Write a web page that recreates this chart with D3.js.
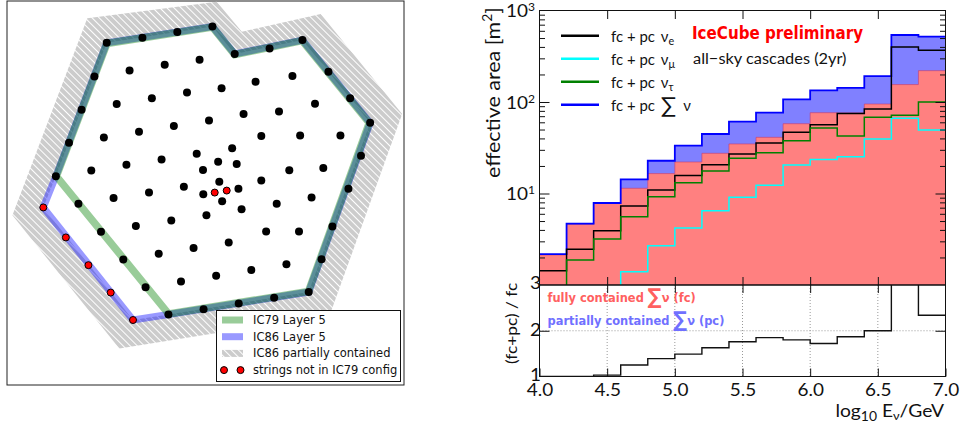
<!DOCTYPE html>
<html>
<head>
<meta charset="utf-8">
<script src="https://cdn.jsdelivr.net/npm/d3@7"></script>
<style>
    body { margin: 0; background: #fff; }
    svg { display: block; }
    text { font-family: "Lato", "DejaVu Sans", sans-serif; fill: #111; }
    .domain { display: none; }
</style>
</head>
<body>
<div id="chart"></div>
<script>
// Detector map: string positions in metres, north up
const hullStrings = [[-351,550],[-226,568],[-104,588],[19,607],[97,511],[219,530],[334,560],[425,449],[501,356],[571,270],
    [539,155],[495,39],[439,-93],[401,-207],[356,-322],[235,-342],[111,-362],[-12,-382],[-135,-401],[-215,-305],
    [-293,-208],[-371,-111],[-450,-13],[-529,83],[-483,200],[-439,316],[-394,432]];
const innerStrings = [[-271,453],[-148,473],[-26,491],[-316,336],[-193,356],[-70,376],[51,391],[170,414],[299,434],
    [-361,219],[-238,239],[-116,259],[7,278],[128,301],[252,310],[378,337],[-405,103],[-282,123],[-159,142],[-36,162],
    [88,181],[190,224],[326,226],[467,226],[-327,7],[-203,26],[-81,46],[-14,105],[39,134],[104,126],[43,64],[110,39],
    [-13,20],[53,-4],[121,-32],[-2,-53],[190,68],[288,104],[407,112],[244,-13],[366,9],[207,-110],[322,-110],[76,-149],
    [-249,-91],[-125,-72],[-47,-168],[-169,-188],[-91,-285],[32,-265],[155,-245],[278,-225]];
const newStrings = [[-573,-26],[-494,-131],[-415,-228],[-337,-324],[-259,-420],[27,26],[69,33]];
const layerIC79 = [[-527,83],[-350,548],[19,605],[97,509],[333,558],[568,270],[355,-320],[-134,-399]];
const layerIC86 = [[-573,-26],[-529,83],[-351,550],[19,607],[97,511],[334,560],[571,270],[356,-322],[-135,-401],[-259,-420]];
const outerIC86 = [[-681,-53],[-419,636],[34,694],[122,589],[398,651],[683,301],[430,-402],[-307,-520]];
const mapLegend = ["IC79 Layer 5", "IC86 Layer 5", "IC86 partially contained", "strings not in IC79 config"];

// Effective area histograms, bins of 0.2 in log10(E/GeV) from 4.0 to 7.0
const binEdges = d3.range(15).map(i => 4 + i * 0.2);
const belowAxis = 0.5;
const areaSum = [2.18,4.68,7.87,14.3,22.8,33.3,44.7,60.9,76.4,107,134,143,192,540,517];
const areaFc = [2.13,4.6,7.8,11.4,16.5,22.1,27.5,34.8,41.1,57.9,76.4,76,95,155,220];
const areaE = [1.43,2.46,3.92,7.3,10.9,15.7,20.6,27,35.6,46.7,56.5,75,84,399,367];
const areaMu = [belowAxis,belowAxis,belowAxis,1.4,2.69,4.2,6.49,9.09,12.3,20.5,23.6,25.2,39.4,66.4,49.4];
const areaTau = [belowAxis,1.88,3.18,5.58,9.2,13.1,17.6,24.3,27.9,37.8,52,42.5,68,71.6,100];
const ratio = [1,1,1.03,1.25,1.39,1.49,1.63,1.76,1.85,1.8,1.72,1.87,2,3.5,2.34];
const xTicks = [4,4.5,5,5.5,6,6.5,7];

const svg = d3.select("#chart").append("svg").attr("width", 964).attr("height", 425);
const defs = svg.append("defs");

// Hatch for the partially contained region
const hatch = defs.append("pattern").attr("id", "hatch")
    .attr("patternUnits", "userSpaceOnUse")
    .attr("width", 5).attr("height", 5)
    .attr("patternTransform", "rotate(-45)");
hatch.append("rect").attr("width", 5).attr("height", 5).attr("fill", "#cccccc");
hatch.append("line").attr("x1", 2.5).attr("x2", 2.5).attr("y1", 0).attr("y2", 5)
    .attr("stroke", "#fff").attr("stroke-width", 1);

// Text helper: matplotlib's picture is stretched sideways, so allow a horizontal scale
function label(parent, x, y, opts = {}) {
    return parent.append("text")
        .attr("transform", `translate(${x},${y}) rotate(${opts.rotate || 0}) scale(${opts.sx || 1},1)`)
        .attr("text-anchor", opts.anchor || "start")
        .style("font-size", (opts.size || 15) + "px")
        .style("font-weight", opts.weight || 400)
        .style("font-family", opts.family || null)
        .style("fill", opts.color || null);
}
function tspan(t, str, size, dy) {
    t.append("tspan").attr("dy", dy || 0).style("font-size", size ? size + "px" : null).text(str);
}

// ---------- left panel: detector map ----------
function drawMap() {
    const frame = { left: 7, right: 404, top: 1, bottom: 385 };
    const x = d3.scaleLinear().domain([0, 350]).range([207, 307]);
    const y = d3.scaleLinear().domain([0, 350]).range([200, 100]);
    const line = d3.line().x(d => x(d[0])).y(d => y(d[1]));
    const ringPath = pts => line(pts) + "Z";

    const map = svg.append("g");
    map.append("rect").attr("x", frame.left).attr("y", frame.top)
        .attr("width", frame.right - frame.left).attr("height", frame.bottom - frame.top)
        .attr("fill", "#fff").attr("stroke", "#222").attr("stroke-width", 1);

    // Hatched ring between the outer outline and the IC86 hull
    map.append("path")
        .attr("d", ringPath(outerIC86) + ringPath(layerIC86))
        .attr("fill", "url(#hatch)").attr("fill-rule", "evenodd");

    // Blue goes first so that green on top gives the teal overlap
    map.append("path").attr("d", ringPath(layerIC86)).attr("fill", "none")
        .attr("stroke", "#0000ff").attr("stroke-opacity", 0.4).attr("stroke-width", 7).attr("stroke-linejoin", "miter");
    map.append("path").attr("d", ringPath(layerIC79)).attr("fill", "none")
        .attr("stroke", "#008000").attr("stroke-opacity", 0.4).attr("stroke-width", 7.5).attr("stroke-linejoin", "miter");

    map.selectAll(".string").data(hullStrings.concat(innerStrings)).enter().append("circle")
        .attr("class", "string")
        .attr("cx", d => x(d[0])).attr("cy", d => y(d[1])).attr("r", 4).attr("fill", "#000");
    map.selectAll(".new-string").data(newStrings).enter().append("circle")
        .attr("class", "new-string")
        .attr("cx", d => x(d[0])).attr("cy", d => y(d[1])).attr("r", 3.5)
        .attr("fill", "#ff0000").attr("stroke", "#000").attr("stroke-width", 1);

    // Legend
    const legend = map.append("g").attr("transform", "translate(216.5,310.5)");
    legend.append("rect").attr("width", 184).attr("height", 71)
        .attr("fill", "#fff").attr("stroke", "#111").attr("stroke-width", 1);
    const rowY = i => 9.5 + i * 16.7;
    legend.append("rect").attr("x", 5.5).attr("y", rowY(0) - 3.5).attr("width", 21).attr("height", 7).attr("fill", "#99cc99");
    legend.append("rect").attr("x", 5.5).attr("y", rowY(1) - 3.5).attr("width", 21).attr("height", 7).attr("fill", "#9999ff");
    legend.append("rect").attr("x", 5.5).attr("y", rowY(2) - 3.5).attr("width", 21).attr("height", 7).attr("fill", "url(#hatch)");
    [7.5, 24].forEach(cx => {
        legend.append("circle").attr("cx", cx).attr("cy", rowY(3)).attr("r", 3.5)
            .attr("fill", "#ff0000").attr("stroke", "#000").attr("stroke-width", 1);
    });
    mapLegend.forEach((d, i) => {
        label(legend, 36.5, rowY(i) + 4, { size: 11.5, family: "DejaVu Sans" }).text(d);
    });
}

// ---------- right panel: effective area ----------
function drawArea() {
    const x = d3.scaleLinear().domain([4, 7]).range([539.5, 945.5]);
    const yTop = d3.scaleLog().domain([1, 1000]).range([285, 10.5]);
    const yBottom = d3.scaleLinear().domain([1, 3]).range([376.5, 285]);
    const binWidth = 0.2;

    const closeBins = values => binEdges.map((e, i) => [e, values[i]])
        .concat([[binEdges[14] + binWidth, values[14]]]);

    const plot = svg.append("g");
    plot.append("clipPath").attr("id", "clip-top").append("rect")
        .attr("x", x(4)).attr("y", yTop(1000)).attr("width", x(7) - x(4)).attr("height", yTop(1) - yTop(1000));
    plot.append("clipPath").attr("id", "clip-bottom").append("rect")
        .attr("x", x(4)).attr("y", yBottom(3)).attr("width", x(7) - x(4)).attr("height", yBottom(1) - yBottom(3));

    const top = plot.append("g").attr("clip-path", "url(#clip-top)");
    const area = d3.area().curve(d3.curveStepAfter).x(d => x(d[0])).y0(yTop(1)).y1(d => yTop(d[1]));
    const stepTop = d3.line().curve(d3.curveStepAfter).x(d => x(d[0])).y(d => yTop(d[1]));

    top.append("path").attr("d", area(closeBins(areaSum))).attr("fill", "#8080ff");
    top.append("path").attr("d", area(closeBins(areaFc))).attr("fill", "#ff8080")
        .attr("stroke", "#c23c70").attr("stroke-opacity", 0.6).attr("stroke-width", 1);

    [[areaSum, "#0000ff", 1.8], [areaE, "#000", 1.5], [areaMu, "#00ffff", 1.5], [areaTau, "#008000", 1.5]].forEach(s => {
        top.append("path").attr("d", stepTop(closeBins(s[0])))
            .attr("fill", "none").attr("stroke", s[1]).attr("stroke-width", s[2]);
    });

    // Lower panel: dotted grid then ratio
    const lower = plot.append("g");
    lower.selectAll(".vgrid").data(xTicks.slice(1, -1)).enter().append("line")
        .attr("x1", d => x(d)).attr("x2", d => x(d)).attr("y1", yBottom(3)).attr("y2", yBottom(1))
        .attr("stroke", "#999").attr("stroke-dasharray", "1,2");
    lower.append("line").attr("x1", x(4)).attr("x2", x(7)).attr("y1", yBottom(2)).attr("y2", yBottom(2))
        .attr("stroke", "#999").attr("stroke-dasharray", "1,2");
    const stepBottom = d3.line().curve(d3.curveStepAfter).x(d => x(d[0])).y(d => yBottom(d[1]));
    lower.append("path").attr("clip-path", "url(#clip-bottom)").attr("d", stepBottom(closeBins(ratio)))
        .attr("fill", "none").attr("stroke", "#111").attr("stroke-width", 1.4);

    // Axes, all ticks inward
    const axisStyle = g => g.selectAll("line").attr("stroke", "#111");
    const minorTicks = yTop.ticks().filter(d => ![1, 10, 100, 1000].includes(d));
    [[d3.axisLeft, x(4)], [d3.axisRight, x(7)]].forEach(a => {
        const side = a[0];
        plot.append("g").attr("transform", `translate(${a[1]},0)`)
            .call(side(yTop).tickValues(minorTicks).tickSize(-5.5).tickFormat("")).call(axisStyle);
        plot.append("g").attr("transform", `translate(${a[1]},0)`)
            .call(side(yTop).tickValues([10, 100]).tickSize(-10).tickFormat("")).call(axisStyle);
        plot.append("g").attr("transform", `translate(${a[1]},0)`)
            .call(side(yBottom).tickValues([2]).tickSize(-10).tickFormat("")).call(axisStyle);
    });
    const inner = xTicks.slice(1, -1);
    plot.append("g").attr("transform", `translate(0,${yTop(1000)})`)
        .call(d3.axisTop(x).tickValues(inner).tickSize(-8.5).tickFormat("")).call(axisStyle);
    plot.append("g").attr("transform", `translate(0,${yTop(1)})`)
        .call(d3.axisBottom(x).tickValues(inner).tickSize(-8).tickFormat("")).call(axisStyle);
    plot.append("g").attr("transform", `translate(0,${yTop(1)})`)
        .call(d3.axisTop(x).tickValues(inner).tickSize(-8).tickFormat("")).call(axisStyle);
    const xAxis = plot.append("g").attr("transform", `translate(0,${yBottom(1)})`)
        .call(d3.axisBottom(x).tickValues(xTicks).tickSize(-8).tickPadding(8).tickFormat(d3.format(".1f")))
        .call(axisStyle);
    xAxis.selectAll("text").style("font-size", "16.5px")
        .attr("transform", "scale(1.15,1)")
        .style("fill", "#111");

    // Frames
    [[yTop(1000), yTop(1)], [yBottom(3), yBottom(1)]].forEach(r => {
        plot.append("rect").attr("x", x(4)).attr("y", r[0]).attr("width", x(7) - x(4)).attr("height", r[1] - r[0])
            .attr("fill", "none").attr("stroke", "#111").attr("stroke-width", 1);
    });

    // Y tick labels
    [[1000, "3"], [100, "2"], [10, "1"]].forEach(d => {
        const t = label(plot, 506, yTop(d[0]) + 6.5, { size: 16.5, sx: 1.15 });
        tspan(t, "10");
        tspan(t, d[1], 10.5, -6);
    });
    label(plot, 530, 288.5, { size: 16.5, sx: 1.15 }).text("3");
    label(plot, 530, 335.5, { size: 16.5, sx: 1.15 }).text("2");
    label(plot, 530, 380.5, { size: 16.5, sx: 1.15 }).text("1");

    // Axis titles
    const yTitle = label(plot, 499.5, 178, { size: 20, rotate: -90, sx: 1.07 });
    tspan(yTitle, "effective area [m");
    tspan(yTitle, "2", 13, -8);
    yTitle.append("tspan").attr("dy", 8).text("]");
    label(plot, 517, 364, { size: 15, rotate: -90, sx: 1.15 }).text("(fc+pc) / fc");
    const xTitle = label(plot, 944, 416.5, { size: 18, anchor: "end", sx: 1.07 });
    tspan(xTitle, "log");
    tspan(xTitle, "10", 13, 4);
    xTitle.append("tspan").attr("dy", -4).text(" E");
    tspan(xTitle, "ν", 12, 3);
    xTitle.append("tspan").attr("dy", -3).text("/GeV");

    // Flavour legend
    const legendRows = [["#000", "e"], ["#00ffff", "μ"], ["#008000", "τ"], ["#0000ff", null]];
    legendRows.forEach((d, i) => {
        const rowY = 35.7 + i * 23;
        plot.append("line").attr("x1", 561).attr("x2", 599).attr("y1", rowY).attr("y2", rowY)
            .attr("stroke", d[0]).attr("stroke-width", 2.5);
        const t = label(plot, 611, rowY + 6, { size: 14.5, sx: 1.03 });
        t.append("tspan").text("fc + pc  ");
        if (d[1]) {
            t.append("tspan").attr("dx", 2).text("ν");
            tspan(t, d[1], 10.5, 3);
        } else {
            t.append("tspan").style("font-size", "22px").attr("dx", 2).attr("dy", 2).text("∑");
            t.append("tspan").attr("dx", 3).attr("dy", -2).text(" ν");
        }
    });
    label(plot, 692, 38.5, { size: 18, weight: 700, color: "#ff0000", family: "DejaVu Sans", sx: 0.84 }).text("IceCube preliminary");
    label(plot, 693, 63.5, { size: 14.5, sx: 1.13 }).text("all−sky cascades (2yr)");

    // Contained labels in the lower panel
    const fc = label(plot, 547.5, 301.5, { size: 13, weight: 700, color: "#ff6060", family: "DejaVu Sans", sx: 0.88 });
    fc.append("tspan").text("fully contained ");
    fc.append("tspan").style("font-size", "22px").attr("dy", 2).text("∑");
    fc.append("tspan").attr("dy", -2).text("ν (fc)");
    const pc = label(plot, 547.5, 325, { size: 13, weight: 700, color: "#7070ff", family: "DejaVu Sans", sx: 0.88 });
    pc.append("tspan").text("partially contained ");
    pc.append("tspan").style("font-size", "22px").attr("dy", 2).text("∑");
    pc.append("tspan").attr("dy", -2).text("ν (pc)");
}

drawMap();
drawArea();
</script>
</body>
</html>
